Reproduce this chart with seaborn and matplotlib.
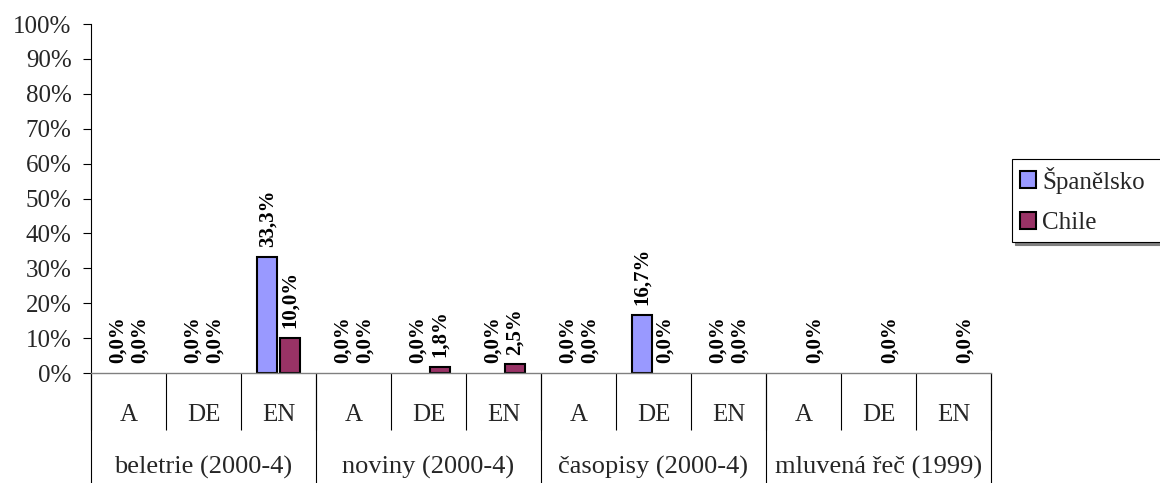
import numpy as np
import pandas as pd
import matplotlib
matplotlib.use("Agg")
import matplotlib.pyplot as plt
import seaborn as sns

# ---- data ----
groups = ["beletrie (2000-4)", "noviny (2000-4)", "časopisy (2000-4)", "mluvená řeč (1999)"]
subcats = ["A", "DE", "EN"]
series = ["Španělsko", "Chile"]
spanelsko = [0.0, 0.0, 33.3, 0.0, 0.0, 0.0, 0.0, 16.7, 0.0, np.nan, np.nan, np.nan]
chile = [0.0, 0.0, 10.0, 0.0, 1.8, 2.5, 0.0, 0.0, 0.0, 0.0, 0.0, 0.0]
yticks = [0, 10, 20, 30, 40, 50, 60, 70, 80, 90, 100]

colors = ["#9999FF", "#993366"]

cats = [f"{g}|{s}" for g in groups for s in subcats]
df = pd.DataFrame({
    "cat": cats * 2,
    "val": spanelsko + chile,
    "series": [series[0]] * len(cats) + [series[1]] * len(cats),
})

sns.set_theme(style="white")
plt.rcParams["font.family"] = ["Liberation Serif", "DejaVu Serif"]

W, H = 1160, 483
fig = plt.figure(figsize=(W / 100, H / 100), dpi=100)
ax = fig.add_axes([91 / W, 110 / H, 900 / W, 349 / H])

sns.barplot(data=df, x="cat", y="val", hue="series", order=cats, hue_order=series,
            palette=colors, width=0.59, gap=0.1, edgecolor="black", linewidth=1.5,
            errorbar=None, saturation=1, ax=ax)

def fmt(v):
    return "" if np.isnan(v) else f"{v:.1f}%".replace(".", ",")

for c in ax.containers:
    for p in c.patches:
        h = p.get_height()
        if not np.isfinite(h) or h == 0:
            p.set_linewidth(0)
    ax.bar_label(c, labels=[fmt(v) for v in c.datavalues], rotation=90, padding=7,
                 fontsize=15, fontweight="bold", color="black")

ax.set_xlim(-0.5, len(cats) - 0.5)
ax.set_ylim(0, 100)
ax.set_yticks(yticks)
ax.set_yticklabels([f"{t}%" for t in yticks], fontsize=18)
ax.set_xticks(range(len(cats)))
ax.set_xticklabels(subcats * len(groups), fontsize=18)
ax.set_xlabel("")
ax.set_ylabel("")

ax.tick_params(axis="y", which="major", left=True, length=6, width=0.8, color="black",
               direction="out", pad=8)
ax.tick_params(axis="x", which="major", bottom=True, length=0, pad=22)
ax.set_xticks(np.arange(-0.5, len(cats), 1.0), minor=True)
ax.tick_params(axis="x", which="minor", bottom=True, length=41, width=0.8,
               color="black", direction="out")

for s in ["top", "right"]:
    ax.spines[s].set_visible(False)
ax.spines["left"].set_color("black")
ax.spines["left"].set_linewidth(0.8)
ax.spines["bottom"].set_color("#808080")
ax.spines["bottom"].set_linewidth(1.0)

# group separators and labels
tr = ax.get_xaxis_transform()
bounds = np.arange(-0.5, len(cats), len(subcats))
ax.vlines(bounds, -0.32, 0, transform=tr, colors="black", linewidth=0.8, clip_on=False)
for i, g in enumerate(groups):
    ax.text(i * len(subcats) + 1, -0.272, g, transform=tr, ha="center", va="center",
            fontsize=19)

# legend (box runs past the right edge of the figure, as in the reference)
handles, labels = ax.get_legend_handles_labels()
x0, y1 = 1012 / W, (H - 159) / H
leg = ax.legend(handles, labels, loc="upper left", mode="expand",
                bbox_to_anchor=(x0, y1 - 0.2, 200 / W, 0.2), bbox_transform=fig.transFigure,
                borderaxespad=0, fontsize=18, frameon=True, fancybox=False,
                handlelength=0.65, handleheight=0.65, handletextpad=0.25,
                labelspacing=0.75, borderpad=0.3,
                shadow={"color": "#808080", "alpha": 1})
leg.get_frame().set_edgecolor("black")
leg.get_frame().set_linewidth(0.8)

fig.savefig("out.png", dpi=100)
